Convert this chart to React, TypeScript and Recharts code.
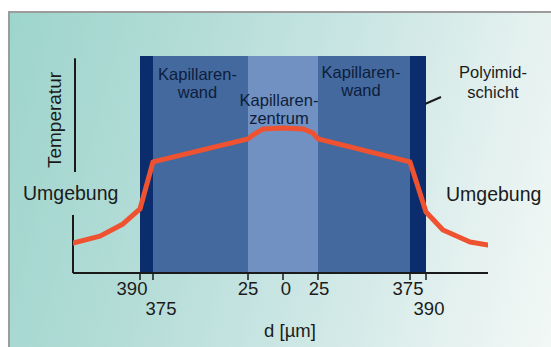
import {
  LineChart,
  Line,
  XAxis,
  YAxis,
  ReferenceArea,
  ReferenceLine,
} from "recharts";

// schematic position along the capillary (0 = centre), and relative temperature
const positions = [-210, -183, -160, -143, -130, -35, -30, -20, 0, 20, 30, 35, 127, 143, 160, 187, 205];
const temperature = [13.8, 17, 22.6, 29.5, 51.2, 61.8, 63.6, 66.4, 66.8, 66.4, 64.5, 61.8, 51.2, 28.1, 19.8, 14.3, 12.9];

const tickValues = [-143, -130, -35, 0, 35, 127, 143];
const tickLabels = ["390", "375", "25", "0", "25", "375", "390"];
const tickRow = [0, 1, 0, 0, 0, 0, 1];
const tickShift = [-8, 8, 0, 3, 1, -2, 3];

const bands = [
  { from: -143, to: -130, fill: "#0b2d6d", lines: [] as string[] },
  { from: -130, to: -35, fill: "#43699f", lines: ["Kapillaren-", "wand"] },
  { from: -35, to: 35, fill: "#7191c2", lines: ["Kapillaren-", "zentrum"] },
  { from: 35, to: 127, fill: "#43699f", lines: ["Kapillaren-", "wand"] },
  { from: 127, to: 143, fill: "#0b2d6d", lines: [] as string[] },
];
const bandLabelTop = [0, 24, 50, 22, 0];
const bandLabelShift = [0, -3, -4, -3, 0];

const data = positions.map((u, i) => ({ u, t: temperature[i] }));

const FONT = "'Liberation Sans', Arial, sans-serif";

function AxisTick(props: any) {
  const { x, y, index } = props;
  const row = tickRow[index] ?? 0;
  return (
    <text
      x={x + (tickShift[index] ?? 0)}
      y={y + 13 + row * 20}
      textAnchor="middle"
      fontFamily={FONT}
      fontSize={18.5}
      fill="#1b1b1b"
    >
      {tickLabels[index]}
    </text>
  );
}

function BandLabel(idx: number) {
  return (props: any) => {
    const vb = props.viewBox;
    const lines = bands[idx].lines;
    if (!vb || !lines.length) return null;
    const cx = vb.x + vb.width / 2 + bandLabelShift[idx];
    return (
      <text
        textAnchor="middle"
        fontFamily={FONT}
        fontSize={16.5}
        fill="#0e1d3b"
      >
        {lines.map((l, k) => (
          <tspan key={k} x={cx} y={vb.y + bandLabelTop[idx] + k * 18}>
            {l}
          </tspan>
        ))}
      </text>
    );
  };
}

export default function App() {
  return (
    <div
      style={{
        position: "absolute",
        left: 0,
        top: 0,
        width: 551,
        height: 347,
        background: "#ffffff",
        overflow: "hidden",
      }}
    >
      <div
        style={{
          position: "absolute",
          left: 8,
          top: 11,
          right: 0,
          bottom: 0,
          borderTop: "2px solid #9c9c9c",
          borderLeft: "2px solid #9c9c9c",
          background:
            "linear-gradient(105deg, #9dd5cc 0%, #b3dcd7 30%, #cde7e5 60%, #e6f2f0 85%, #f1f8f5 100%)",
        }}
      />
      <div style={{ position: "absolute", left: 0, top: 0 }}>
        <LineChart
          width={551}
          height={347}
          data={data}
          margin={{ top: 56, right: 63, bottom: 14, left: 73 }}
        >
          <XAxis
            type="number"
            dataKey="u"
            domain={[-210, 205]}
            ticks={tickValues}
            interval={0}
            height={60}
            axisLine={{ stroke: "#1a1a1a", strokeWidth: 2 }}
            tickLine={{ stroke: "#1a1a1a", strokeWidth: 1.5 }}
            tickSize={7}
            tick={<AxisTick />}
            allowDataOverflow
          />
          <YAxis type="number" domain={[0, 100]} hide />
          {bands.map((b, i) => (
            <ReferenceArea
              key={i}
              x1={b.from}
              x2={b.to}
              y1={0}
              y2={100}
              fill={b.fill}
              fillOpacity={1}
              stroke="none"
              label={BandLabel(i)}
            />
          ))}
          <ReferenceLine
            segment={[
              { x: -210, y: 0 },
              { x: -210, y: 26.7 },
            ]}
            stroke="#1a1a1a"
            strokeWidth={2}
            ifOverflow="visible"
          />
          <ReferenceLine
            segment={[
              { x: -208, y: 46.5 },
              { x: -208, y: 99 },
            ]}
            stroke="#1a1a1a"
            strokeWidth={2}
            ifOverflow="visible"
          />
          <Line
            type="linear"
            dataKey="t"
            stroke="#ef5230"
            strokeWidth={5}
            strokeLinejoin="round"
            strokeLinecap="round"
            dot={false}
            isAnimationActive={false}
          />
        </LineChart>
      </div>
      <svg
        width={551}
        height={347}
        style={{ position: "absolute", left: 0, top: 0, pointerEvents: "none" }}
      >
        <g fontFamily={FONT} fill="#1b1b1b">
          <text
            transform="translate(61,120) rotate(-90)"
            textAnchor="middle"
            fontSize={19}
          >
            Temperatur
          </text>
          <text x={23} y={200} fontSize={19.5}>
            Umgebung
          </text>
          <text x={446} y={201} fontSize={19.5}>
            Umgebung
          </text>
          <text x={290} y={337} textAnchor="middle" fontSize={18.5}>
            d [µm]
          </text>
          <text textAnchor="middle" fontSize={16.5}>
            <tspan x={493} y={78}>
              Polyimid-
            </tspan>
            <tspan x={493} y={98}>
              schicht
            </tspan>
          </text>
        </g>
        <line x1={425} y1={104} x2={441} y2={97} stroke="#1b1b1b" strokeWidth={2} />
      </svg>
    </div>
  );
}
